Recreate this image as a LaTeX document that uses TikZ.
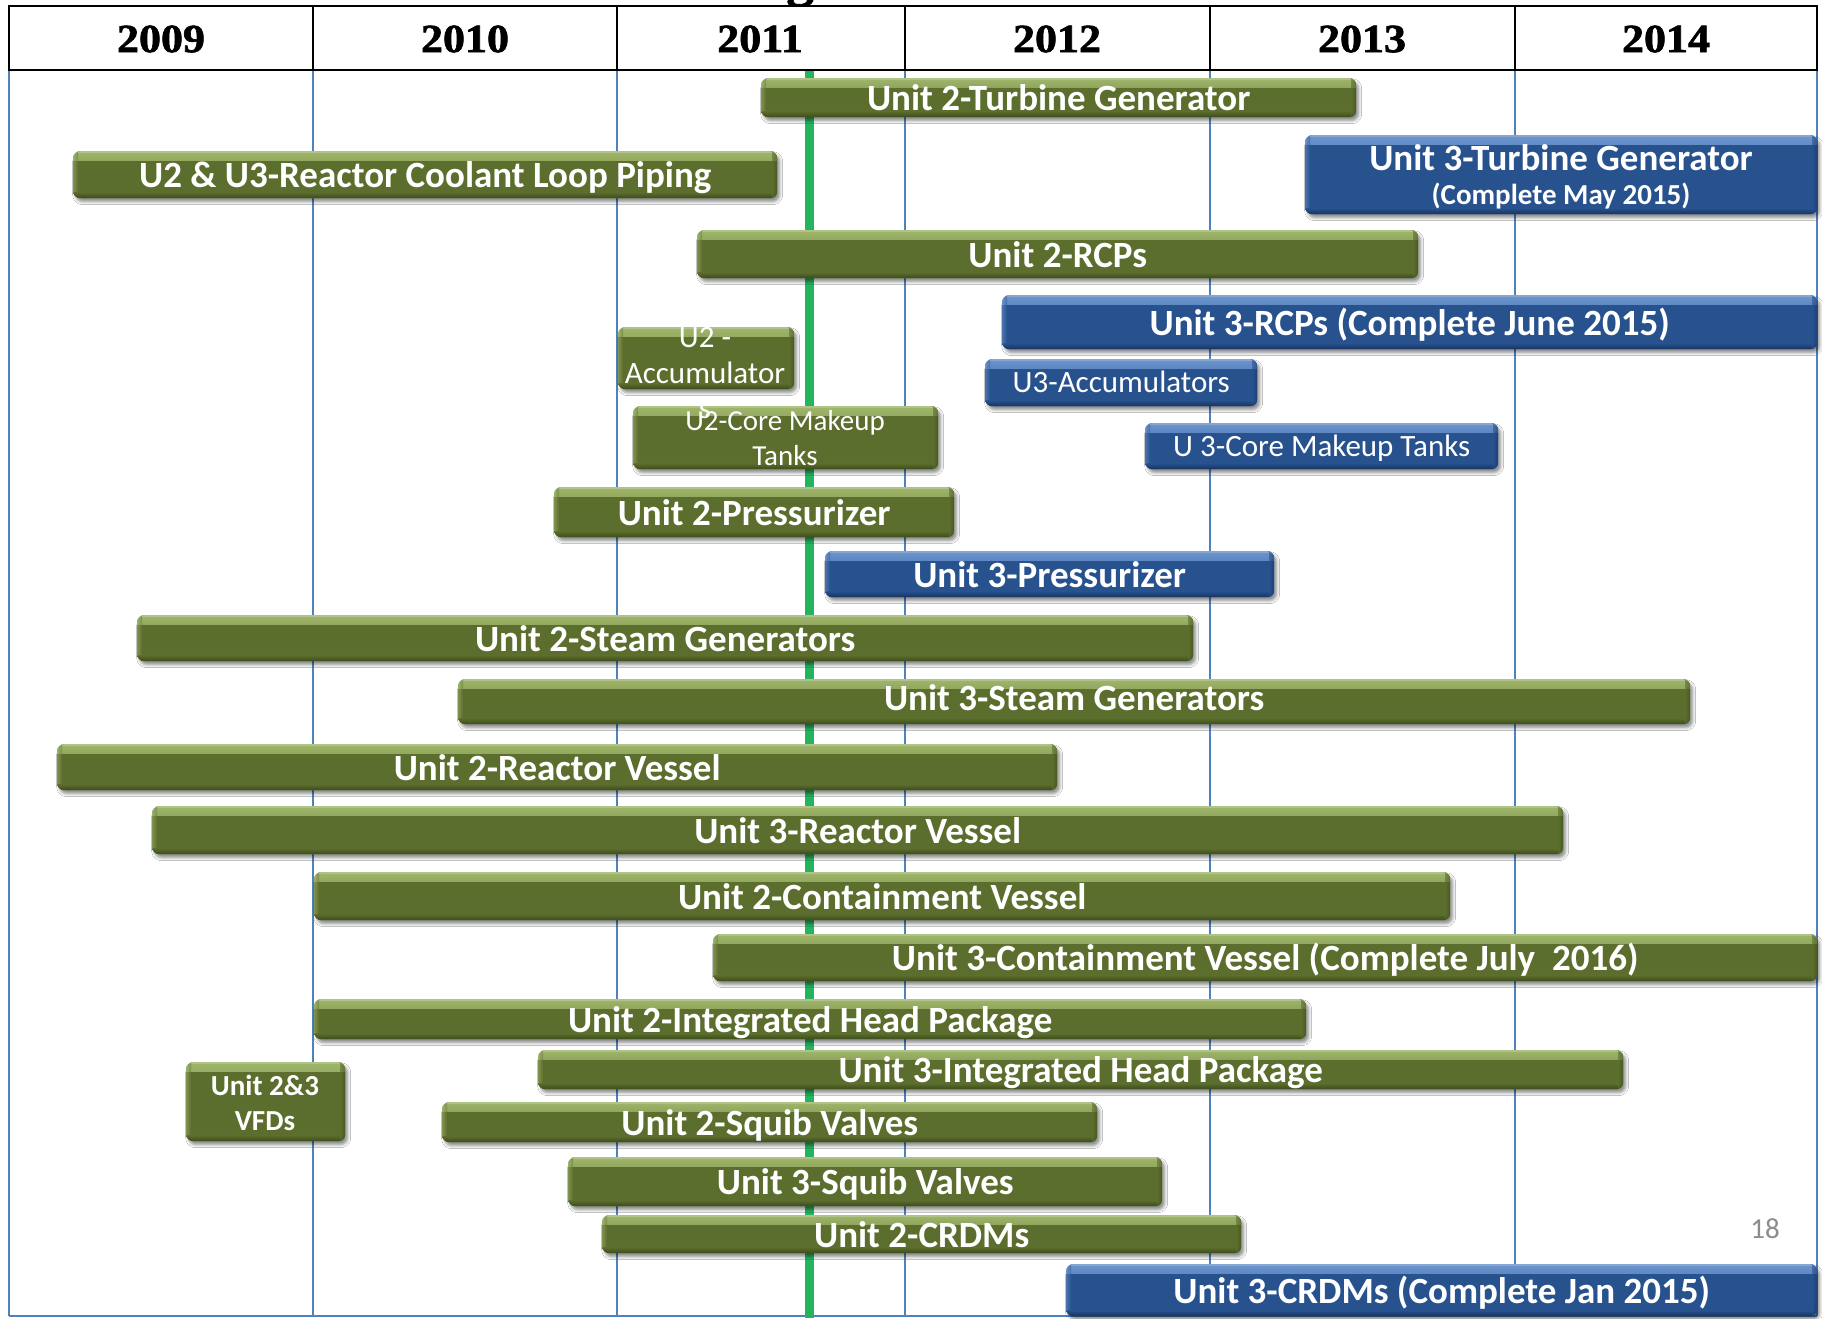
\documentclass[tikz,border=0pt]{standalone}
\usepackage{fontspec}
\setmainfont{Carlito}
\newfontfamily\yearfont{Liberation Serif}[BoldFeatures={FakeBold=1.6, FakeStretch=1.1}]
\usetikzlibrary{shadows.blur}
\definecolor{gbase}{RGB}{91,110,45}
\definecolor{glight}{RGB}{160,182,108}
\definecolor{gdark}{RGB}{60,76,26}
\definecolor{bbase}{RGB}{40,82,142}
\definecolor{blight}{RGB}{108,148,205}
\definecolor{bdark}{RGB}{22,50,96}
\definecolor{gridblue}{RGB}{79,129,189}
\definecolor{nowgreen}{RGB}{35,181,94}
\definecolor{pagegray}{RGB}{140,140,140}
\newcommand\ganttbar[7]{\node[#1, minimum width={#5-#3}, minimum height={#6-#4}] (#2) at (#3,#4) {#7};}
\tikzset{
  barshape/.style={rounded corners=7pt, inner sep=0pt, anchor=north west, text=white,
    blur shadow={shadow xshift=2.5pt, shadow yshift=-3.5pt, shadow blur radius=3pt, shadow opacity=45}},
  bevel/.style n args={3}{path picture={
    \shade[sharp corners, top color=#2, bottom color=#1] (path picture bounding box.north west) rectangle ([yshift=-9pt]path picture bounding box.north east);
    \fill[sharp corners, #2!70!white, opacity=0.6] (path picture bounding box.north west) rectangle ([yshift=-2pt]path picture bounding box.north east);
    \shade[sharp corners, left color=#2, right color=#1, opacity=0.5] (path picture bounding box.north west) rectangle ([xshift=5pt]path picture bounding box.south west);
    \shade[sharp corners, top color=#1, bottom color=#3] ([yshift=6pt]path picture bounding box.south west) rectangle (path picture bounding box.south east);
    \shade[sharp corners, left color=#1, right color=#3, opacity=0.6] ([xshift=-5pt]path picture bounding box.north east) rectangle (path picture bounding box.south east);}},
  gbar/.style={barshape, fill=gbase, bevel={gbase}{glight}{gdark}},
  bbar/.style={barshape, fill=bbase, bevel={bbase}{blight}{bdark}},
  bigtext/.style={font=\bfseries\fontsize{37}{44}\selectfont, text height=26pt, text depth=0pt},
  regtext/.style={font=\fontsize{31}{36}\selectfont, text height=27pt, text depth=7pt},
  linetext/.style={text=white, inner sep=0pt, anchor=base},
  yeartext/.style={font=\yearfont\bfseries\fontsize{40}{44}\selectfont, inner sep=0pt},
  gridline/.style={draw=gridblue, line width=1.3pt},
  headline/.style={draw=black, line width=2.5pt},
}
\begin{document}
\begin{tikzpicture}[x=1pt, y=-1pt]
\useasboundingbox (0,0) rectangle (1822,1318);
\fill[white] (0,0) rectangle (1822,1318);
% cut-off title descender
\node[font=\yearfont\bfseries\fontsize{50}{50}\selectfont, anchor=base, inner sep=0pt] (titleg) at (800,-4) {g};
% grid
\foreach \x in {9,313,617,905,1210,1515,1817} \draw[gridline] (\x,70) -- (\x,1316);
\draw[gridline] (9,1316) -- (1817,1316);
% today line
\draw[draw=nowgreen, line width=9pt] (809,70) -- (809,1318);
% header
\fill[white] (9,6) rectangle (1817,70);
\draw[headline] (9,6) rectangle (1817,70);
\foreach \x in {313,617,905,1210,1515} \draw[headline] (\x,6) -- (\x,70);
\node[yeartext] (y2009) at (161,39) {2009};
\node[yeartext] (y2010) at (465,39) {2010};
\node[yeartext] (y2011) at (760,39) {2011};
\node[yeartext] (y2012) at (1057,39) {2012};
\node[yeartext] (y2013) at (1362,39) {2013};
\node[yeartext] (y2014) at (1666,39) {2014};
% bars
\ganttbar{gbar,bigtext}{tg2}{761}{78}{1356}{117}{Unit 2-Turbine Generator}
\ganttbar{gbar,bigtext}{rclp}{73}{151}{777}{198}{U2 \& U3-Reactor Coolant Loop Piping}
\ganttbar{bbar}{tg3}{1305}{135}{1817}{214}{}
\node[linetext, font=\bfseries\fontsize{37}{44}\selectfont] (tg3a) at (1561,170) {Unit 3-Turbine Generator};
\node[linetext, font=\bfseries\fontsize{29}{34}\selectfont] (tg3b) at (1561,204) {(Complete May 2015)};
\ganttbar{gbar,bigtext}{rcp2}{697}{230}{1418}{278}{Unit 2-RCPs}
\ganttbar{bbar,bigtext}{rcp3}{1002}{295}{1817}{349}{Unit 3-RCPs (Complete June 2015)}
\ganttbar{gbar}{acc2}{618}{327}{794}{389}{}
\ganttbar{bbar,regtext}{acc3}{985}{359}{1257}{406}{U3-Accumulators}
\ganttbar{gbar}{cmt2}{633}{406}{938}{469}{}
\node[linetext, font=\fontsize{31}{36}\selectfont] (acc2a) at (705,347) {U2 -};
\node[linetext, font=\fontsize{31}{36}\selectfont] (acc2b) at (705,383) {Accumulator};
\node[linetext, font=\fontsize{31}{36}\selectfont] (acc2c) at (705,418) {s};
\node[linetext, font=\fontsize{29}{35}\selectfont] (cmt2a) at (785,430) {U2-Core Makeup};
\node[linetext, font=\fontsize{29}{35}\selectfont] (cmt2b) at (785,465) {Tanks};
\ganttbar{bbar,regtext}{cmt3}{1145}{423}{1498}{469}{U 3-Core Makeup Tanks}
\ganttbar{gbar,bigtext}{prz2}{554}{487}{954}{537}{Unit 2-Pressurizer}
\ganttbar{bbar,bigtext}{prz3}{825}{551}{1274}{597}{Unit 3-Pressurizer}
\ganttbar{gbar,bigtext}{sg2}{137}{615}{1193}{661}{Unit 2-Steam Generators}
\ganttbar{gbar,bigtext, text depth=9pt}{sg3}{458}{679}{1690}{724}{Unit 3-Steam Generators}
\ganttbar{gbar,bigtext}{rv2}{57}{744}{1057}{790}{Unit 2-Reactor Vessel}
\ganttbar{gbar,bigtext}{rv3}{152}{806}{1563}{854}{Unit 3-Reactor Vessel}
\ganttbar{gbar,bigtext}{cv2}{314}{872}{1450}{920}{Unit 2-Containment Vessel}
\ganttbar{gbar,bigtext}{cv3}{713}{934}{1817}{981}{Unit 3-Containment Vessel (Complete July~~2016)}
\ganttbar{gbar,bigtext}{ihp2}{314}{999}{1306}{1039}{Unit 2-Integrated Head Package}
\ganttbar{gbar,bigtext}{ihp3}{538}{1050}{1623}{1089}{Unit 3-Integrated Head Package}
\ganttbar{gbar}{vfd}{186}{1062}{345}{1141}{}
\node[linetext, font=\bfseries\fontsize{29}{35}\selectfont] (vfda) at (265,1095) {Unit 2\&3};
\node[linetext, font=\bfseries\fontsize{29}{35}\selectfont] (vfdb) at (265,1130) {VFDs};
\ganttbar{gbar,bigtext}{sqv2}{442}{1102}{1097}{1142}{Unit 2-Squib Valves}
\ganttbar{gbar,bigtext}{sqv3}{568}{1157}{1162}{1206}{Unit 3-Squib Valves}
\ganttbar{gbar,bigtext}{crdm2}{602}{1215}{1241}{1253}{Unit 2-CRDMs}
\ganttbar{bbar,bigtext}{crdm3}{1066}{1264}{1817}{1316}{Unit 3-CRDMs (Complete Jan 2015)}
% page number
\node[font=\fontsize{29}{34}\selectfont, text=pagegray, inner sep=0pt] (pagenum) at (1765,1229) {18};
\end{tikzpicture}
\end{document}
